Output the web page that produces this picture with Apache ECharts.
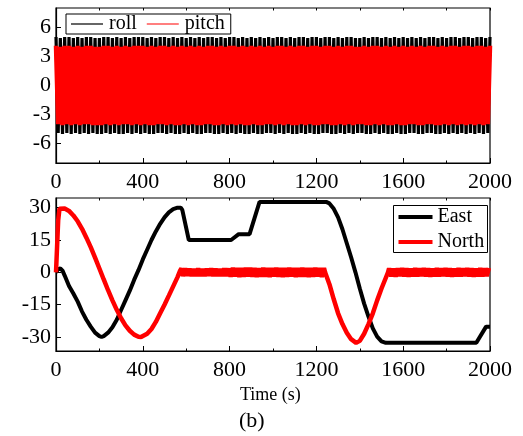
<!DOCTYPE html>
<html>
<head>
<meta charset="utf-8">
<script src="https://cdn.jsdelivr.net/npm/echarts@6/dist/echarts.min.js"></script>
<style>
html,body{margin:0;padding:0;background:#fff;}
#chart{width:523px;height:436px;}
</style>
</head>
<body>
<div id="chart"></div>
<script>
// ---------- Panel (a): attitude angles (deg), sampled every 10 s ----------
const attitudeStep = 10;
const rollValues = [
5,-4.9,4.9,-5,5,-4.9,5,-5,4.9,-4.9,5,-5,4.9,-4.9,5,-5,5,-4.9,4.9,-5,
4.9,-5,5,-4.9,5,-5,4.9,-4.9,5,-5,4.9,-5,5,-4.9,4.9,-5,5,-4.9,5,-5,
5,-4.9,4.9,-5,5,-5,4.9,-4.9,5,-4.9,5,-5,4.9,-4.9,5,-5,4.9,-5,5,-4.9,
4.9,-5,5,-4.9,4.9,-5,5,-5,4.9,-4.9,5,-4.9,5,-5,4.9,-5,5,-4.9,4.9,-5,
5,-4.9,5,-5,4.9,-4.9,5,-5,4.9,-5,5,-4.9,4.9,-5,5,-5,4.9,-4.9,5,-4.9,
4.9,-5,5,-4.9,5,-5,4.9,-4.9,5,-5,4.9,-5,5,-4.9,5,-5,4.9,-4.9,5,-5,
5,-5,4.9,-4.9,5,-4.9,5,-5,4.9,-5,5,-4.9,4.9,-5,5,-4.9,5,-5,4.9,-4.9,
4.9,-4.9,5,-5,4.9,-5,5,-4.9,5,-5,4.9,-4.9,5,-5,4.9,-5,5,-4.9,4.9,-5,
5,-5,4.9,-4.9,5,-4.9,4.9,-5,5,-5,4.9,-4.9,5,-4.9,5,-5,4.9,-5,5,-4.9,
4.9,-5,5,-4.9,5,-5,4.9,-4.9,5,-5,5,-4.9,4.9,-5,5,-4.9,5,-5,4.9,-4.9,
5
];
const pitchValues = [
4.1,-4,4,-4.1,4.1,-4,4.1,-4.1,4,-4,4.1,-4.1,4,-4,4.1,-4,4.1,-4.1,4,-4.1,
4,-4.1,4.1,-4,4.1,-4.1,4,-4,4.1,-4.1,4,-4,4.1,-4,4,-4.1,4.1,-4,4.1,-4.1,
4.1,-4,4,-4.1,4.1,-4.1,4,-4,4.1,-4,4.1,-4.1,4,-4,4.1,-4.1,4,-4.1,4.1,-4,
4,-4.1,4.1,-4,4,-4.1,4.1,-4.1,4,-4,4.1,-4,4.1,-4.1,4,-4.1,4.1,-4,4,-4.1,
4.1,-4,4.1,-4.1,4,-4,4.1,-4.1,4,-4.1,4.1,-4,4,-4.1,4.1,-4.1,4,-4,4.1,-4,
4,-4.1,4.1,-4,4.1,-4.1,4,-4,4.1,-4.1,4,-4.1,4.1,-4,4.1,-4.1,4,-4,4.1,-4.1,
4.1,-4.1,4,-4,4.1,-4,4.1,-4.1,4,-4.1,4.1,-4,4,-4.1,4.1,-4,4.1,-4.1,4,-4,
4,-4,4.1,-4.1,4,-4.1,4.1,-4,4.1,-4.1,4,-4,4.1,-4.1,4,-4.1,4.1,-4,4,-4.1,
4.1,-4.1,4,-4,4.1,-4,4,-4.1,4.1,-4.1,4,-4,4.1,-4,4.1,-4.1,4,-4.1,4.1,-4,
4,-4.1,4.1,-4,4.1,-4.1,4,-4,4.1,-4.1,4.1,-4,4,-4.1,4.1,-4,4.1,-4.1,4,-4,
4.1
];
const attitudeTicks = [-6,-3,0,3,6];

// ---------- Panel (b): East / North (deg) ----------
const eastTime = [0,10,20,30,40,60,80,100,120,140,160,180,200,210,220,240,260,280,300,320,340,360,380,400,420,440,460,480,500,520,540,560,575,582,612,807,842,892,938,1245,1260,1280,1300,1320,1340,1360,1380,1400,1420,1440,1460,1480,1500,1520,1937,1982,2000];
const eastValue = [0,1.5,1.8,0.8,-1.5,-6.3,-9.8,-13.6,-18.2,-22,-25.2,-28,-29.6,-30,-29.6,-28,-25.5,-22,-17.5,-13,-8.5,-3.5,1,6,10.5,15,19,22.5,25.5,27.8,29.3,30,30,29,15,15,17.7,17.7,32.7,32.7,32,29.5,25.5,20,13.5,7,0,-7.5,-14.5,-20.5,-26,-29.8,-32,-32.7,-32.7,-25.2,-25.2];

const northTime = [0,5,10,16,22,40,60,80,100,120,140,160,180,200,220,240,260,280,300,320,340,360,380,392,400,420,440,460,480,500,520,540,560,572,578];
const northValue = [0,12,24,29.5,30,29.6,28.5,26.4,23.7,20.2,16.1,11.7,6.8,1.8,-3.3,-8.3,-13,-17.4,-21.3,-24.6,-27.1,-28.9,-29.9,-30,-29.8,-28.5,-26.3,-23,-19,-15,-10.8,-6.5,-2.2,0.8,1.8];
// fluctuation around 0 between 585 s and 1235 s (every 10 s)
const northNoise1Start = 585;
const northNoise1 = [-1.7,1.8,-1.6,1.7,-1.8,1.6,-1.7,1.8,-1.7,1.6,-1.8,1.7,-1.6,1.8,-1.7,1.7,-1.8,1.6,-1.7,1.8,-1.7,1.8,
-2.0,2.1,-1.9,2.0,-2.1,2.0,-2.0,2.1,-1.9,2.1,-2.0,2.0,-2.1,1.9,-2.0,2.1,-2.0,2.0,-2.1,2.0,-1.9,2.1,-2.0,2.0,-2.1,2.0,
-2.0,2.1,-1.9,2.0,-2.1,2.0,-2.0,2.1,-2.0,2.0,-2.1,2.0,-2.0,2.1,-1.9,2.0,-2.1,2.0];
const northDipTime = [1240,1260,1280,1300,1320,1340,1360,1383,1400,1420,1440,1460,1480,1500,1520,1530];
const northDipValue = [0,-5.5,-12.5,-19,-24,-28,-31,-32.7,-31.8,-28.5,-24,-19,-13,-7.5,-2.5,0];
const northNoise2Start = 1535;
const northNoise2 = [1.9,-1.9,1.8,-2.0,1.9,-1.8,2.0,-1.9,1.9,-2.0,1.8,-1.9,2.0,-1.9,1.9,-1.8,2.0,-1.9,1.9,-2.0,
1.8,-1.9,2.0,-1.9,1.9,-1.8,2.0,-1.9,1.9,-2.0,1.8,-1.9,2.0,-1.9,1.9,-1.8,2.0,-1.9,1.9,-2.0,1.8,-1.9,2.0,-1.9,1.9,-1.8,2.0];
const northNoiseStep = 10;
const enTicks = [-30,-15,0,15,30];

// ---------- build ----------
const rollData = rollValues.map((v,i)=>[i*attitudeStep, v]);
const pitchData = pitchValues.map((v,i)=>[i*attitudeStep, v]);
const eastData = eastTime.map((t,i)=>[t, eastValue[i]]);
const northData = []
  .concat(northTime.map((t,i)=>[t, northValue[i]]))
  .concat(northNoise1.map((v,i)=>[northNoise1Start + i*northNoiseStep, v]))
  .concat(northDipTime.map((t,i)=>[t, northDipValue[i]]))
  .concat(northNoise2.map((v,i)=>[northNoise2Start + i*northNoiseStep, v]));

const FONT = 'Liberation Serif';
const grids = [
  {left:56, top:8, width:434, height:155, show:true, borderColor:'#000', borderWidth:1.2},
  {left:56, top:198, width:434, height:153, show:true, borderColor:'#000', borderWidth:1.2}
];
function bottomX(gi){
  return {type:'value', gridIndex:gi, min:0, max:2000, interval:400, position:'bottom',
    axisLine:{show:true, onZero:false, lineStyle:{color:'#000', width:1.2}},
    axisTick:{show:true, inside:true, length:5, lineStyle:{color:'#000', width:1}},
    minorTick:{show:true, splitNumber:2, length:2.5, lineStyle:{color:'#000', width:1}},
    axisLabel:{show:true, color:'#000', fontFamily:FONT, fontSize:22, margin:8, formatter:(v)=>String(v)},
    splitLine:{show:false}};
}
function topX(gi){
  return {type:'value', gridIndex:gi, min:0, max:2000, interval:200, position:'top',
    axisLine:{show:false, onZero:false},
    axisTick:{show:true, inside:true, length:2.5, lineStyle:{color:'#000', width:1}},
    axisLabel:{show:false}, splitLine:{show:false}};
}
function leftY(gi, mn, mx, ticks){
  return {type:'value', gridIndex:gi, min:mn, max:mx, position:'left',
    axisLine:{show:true, onZero:false, lineStyle:{color:'#000', width:1.2}},
    axisTick:{show:true, inside:true, length:5, customValues:ticks, lineStyle:{color:'#000', width:1}},
    axisLabel:{show:true, color:'#000', fontFamily:FONT, fontSize:22, margin:5, customValues:ticks},
    splitLine:{show:false}};
}
const legendText = {fontFamily:FONT, fontSize:20, fontWeight:'normal', color:'#000', padding:[0,0,0,1]};

const option = {
  animation:false,
  backgroundColor:'#fff',
  grid: grids,
  xAxis:[bottomX(0), topX(0), bottomX(1), topX(1)],
  yAxis:[leftY(0,-8,8,attitudeTicks), leftY(1,-36.5,34.5,enTicks)],
  legend:[
    {data:['roll','pitch'], left:66, top:14, orient:'horizontal', icon:'rect',
     backgroundColor:'#fff', borderColor:'#000', borderWidth:1, borderRadius:0,
     padding:[0,6,0,5], itemGap:10, itemWidth:32, itemHeight:1.2,
     itemStyle:{borderWidth:0}, textStyle:legendText}
  ],
  graphic:[
    {type:'text', left:240, top:386, style:{text:'Time (s)', font:'18px "Liberation Serif"', fill:'#000'}},
    {type:'text', left:239, top:410, style:{text:'(b)', font:'22px "Liberation Serif"', fill:'#000'}},
    // legend box for panel (b)
    {type:'group', left:393, top:205, z:100, children:[
      {type:'rect', shape:{x:0, y:0, width:94, height:47}, style:{fill:'#fff', stroke:'#000', lineWidth:1}},
      {type:'line', shape:{x1:5, y1:11.5, x2:39, y2:11.5}, style:{stroke:'#000', lineWidth:4}},
      {type:'text', x:44, y:11.5, style:{text:'East', font:'20px "Liberation Serif"', fill:'#000', textVerticalAlign:'middle', verticalAlign:'middle'}},
      {type:'line', shape:{x1:5, y1:36.5, x2:39, y2:36.5}, style:{stroke:'#ff0000', lineWidth:4}},
      {type:'text', x:44, y:36.5, style:{text:'North', font:'20px "Liberation Serif"', fill:'#000', textVerticalAlign:'middle', verticalAlign:'middle'}}
    ]}
  ],
  series:[
    {name:'roll', type:'line', xAxisIndex:0, yAxisIndex:0, data:rollData, showSymbol:false, symbol:'none',
     lineStyle:{color:'#000', width:3.2}, itemStyle:{color:'#000'}, z:2},
    {name:'pitch', type:'line', xAxisIndex:0, yAxisIndex:0, data:pitchData, showSymbol:false, symbol:'none',
     lineStyle:{color:'#ff0000', width:4.5}, itemStyle:{color:'#ff0000'}, z:3},
    {name:'East', type:'line', xAxisIndex:2, yAxisIndex:1, data:eastData, showSymbol:false, symbol:'none',
     lineStyle:{color:'#000', width:4}, itemStyle:{color:'#000'}, z:2},
    {name:'North', type:'line', xAxisIndex:2, yAxisIndex:1, data:northData, showSymbol:false, symbol:'none',
     lineStyle:{color:'#ff0000', width:4.5}, itemStyle:{color:'#ff0000'}, z:3}
  ]
};
const chart = echarts.init(document.getElementById('chart'), null, {renderer:'canvas'});
chart.setOption(option);
</script>
</body>
</html>
